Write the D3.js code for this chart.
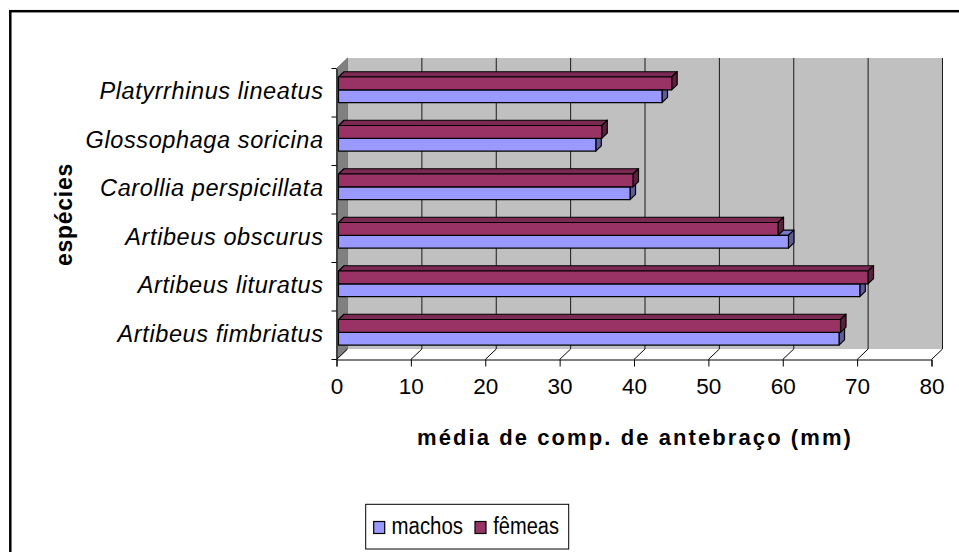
<!DOCTYPE html>
<html><head><meta charset="utf-8">
<script src="https://cdn.jsdelivr.net/npm/d3@7"></script>
<style>html,body{margin:0;padding:0;background:#fff;} svg{display:block;font-family:"Liberation Sans",Arial,sans-serif;}</style>
</head><body>
<svg id="c" width="959" height="552"></svg>
<script>
const categories = ["Platyrrhinus lineatus","Glossophaga soricina","Carollia perspicillata","Artibeus obscurus","Artibeus lituratus","Artibeus fimbriatus"];
const seriesNames = ["machos","fêmeas"];
const machos = [43.5, 34.6, 39.2, 60.5, 70.1, 67.3];
const femeas = [44.8, 35.4, 39.6, 59.1, 71.2, 67.5];
const xTicks = [0,10,20,30,40,50,60,70,80];
const xTitle = "média de comp. de antebraço (mm)";
const yTitle = "espécies";

const svg = d3.select("#c");
const x = d3.scaleLinear().domain([0,80]).range([336.5,931.5]);
const y = d3.scaleBand().domain(categories).range([68.5,359.5]).paddingInner(0).paddingOuter(0);
const DX = 11, DY = -10.5;
const zf = 0.18, zb = 0.68;
const proj = (v, yy, z) => [x(v) + z*DX, yy + z*DY];
const fill = {machos:{front:"#9999ff", top:"#7a7acc", side:"#5c5c99"}, "fêmeas":{front:"#993366", top:"#7a2952", side:"#5c1f3d"}};

function fitText(sel, target){
  const n = sel.text().length;
  const w = sel.node().getComputedTextLength();
  const ls = (target - w)/n;
  sel.attr("letter-spacing", ls);
  return ls;
}

// outer border
svg.append("rect").attr("x",10.3).attr("y",11.2).attr("width",1000).attr("height",600)
  .attr("fill","none").attr("stroke","#000").attr("stroke-width",2.5);

const top0 = y.range()[0], bot0 = y.range()[1];
// back wall
const bw0 = proj(0, top0, 1), bw1 = proj(80, bot0, 1);
svg.append("rect").attr("x",bw0[0]).attr("y",bw0[1]).attr("width",bw1[0]-bw0[0]).attr("height",bw1[1]-bw0[1]).attr("fill","#c0c0c0");
// left wall
const lw = [proj(0,top0,0),proj(0,top0,1),proj(0,bot0,1),proj(0,bot0,0)];
svg.append("polygon").attr("points",lw.map(p=>p.join(",")).join(" ")).attr("fill","#808080").attr("stroke","#555").attr("stroke-width",0.6);
// gridlines on back wall
svg.append("g").selectAll("line").data(xTicks.filter(d=>d>0)).join("line")
  .attr("x1",d=>proj(d,top0,1)[0]).attr("y1",d=>proj(d,top0,1)[1])
  .attr("x2",d=>proj(d,bot0,1)[0]).attr("y2",d=>proj(d,bot0,1)[1])
  .attr("stroke","#1a1a1a").attr("stroke-width",1);
// floor diagonals
svg.append("g").selectAll("line").data(xTicks).join("line")
  .attr("x1",d=>proj(d,bot0,0)[0]).attr("y1",d=>proj(d,bot0,0)[1])
  .attr("x2",d=>proj(d,bot0,1)[0]).attr("y2",d=>proj(d,bot0,1)[1])
  .attr("stroke","#000").attr("stroke-width",1);

// x axis
const xAxis = d3.axisBottom(x).tickValues(xTicks).tickSize(7).tickPadding(4).tickFormat(d3.format("d"));
const gx = svg.append("g").attr("transform",`translate(0,${bot0})`).call(xAxis);
gx.select(".domain").attr("stroke","#000");
gx.selectAll(".tick line").attr("stroke","#000");
gx.selectAll("text").attr("font-size",22.5).attr("fill","#000").attr("font-family","'Liberation Sans',Arial,sans-serif").attr("dy","0.71em").attr("y",18.5);

// y axis
const yAxis = d3.axisLeft(y).tickSize(0).tickFormat("");
const gy = svg.append("g").attr("transform",`translate(${x(0)},0)`).call(yAxis);
gy.select(".domain").attr("stroke","#000");
const bounds = categories.map(c=>y(c)).concat([bot0]);
svg.append("g").selectAll("line").data(bounds).join("line")
  .attr("x1",x(0)-5).attr("x2",x(0)).attr("y1",d=>d).attr("y2",d=>d).attr("stroke","#000");

// category labels
const gl = svg.append("g");
categories.forEach(c=>{
  gl.append("text").attr("x",323.6).attr("y",y(c)+y.bandwidth()/2+6.4)
    .attr("text-anchor","end").attr("font-size",23.5).attr("font-style","italic")
    .attr("letter-spacing",0.6).attr("fill","#000").text(c);
});

// bars
const sub = (c) => d3.scaleBand().domain(["fêmeas","machos"]).range([y(c)+10.4, y(c)+36]);
const gb = svg.append("g");
categories.forEach((c,i)=>{
  const s = sub(c);
  [["machos",machos[i]],["fêmeas",femeas[i]]].forEach(([name,v])=>{
    const y0 = s(name), y1 = y0 + s.bandwidth();
    const faces = [
      {k:"top", pts:[proj(0,y0,zf),proj(v,y0,zf),proj(v,y0,zb),proj(0,y0,zb)]},
      {k:"side", pts:[proj(v,y0,zf),proj(v,y0,zb),proj(v,y1,zb),proj(v,y1,zf)]},
      {k:"front", pts:[proj(0,y0,zf),proj(v,y0,zf),proj(v,y1,zf),proj(0,y1,zf)]}
    ];
    faces.forEach(f=>{
      gb.append("polygon").attr("points",f.pts.map(p=>p.join(",")).join(" "))
        .attr("fill",fill[name][f.k]).attr("stroke","#000").attr("stroke-width",1.2).attr("stroke-linejoin","round");
    });
  });
});

// axis titles
const xt = svg.append("text").attr("x",417).attr("y",445).attr("font-size",22).attr("font-weight","bold").attr("fill","#000").text(xTitle);
fitText(xt, 436);
const yt = svg.append("text").attr("transform","translate(72,266) rotate(-90)").attr("font-size",23).attr("font-weight","bold").attr("fill","#000").text(yTitle);
fitText(yt, 103);

// legend
const lg = svg.append("g");
lg.append("rect").attr("x",365.7).attr("y",504.3).attr("width",203).attr("height",44.7).attr("fill","#fff").attr("stroke","#000").attr("stroke-width",1);
const legItems = [{name:"machos", sx:373.7, tx:391.5, w:71.6},{name:"fêmeas", sx:475, tx:493.3, w:65.7}];
legItems.forEach(it=>{
  lg.append("rect").attr("x",it.sx).attr("y",521.5).attr("width",11).attr("height",12).attr("fill",fill[it.name].front).attr("stroke","#000").attr("stroke-width",1.2);
  lg.append("text").attr("x",it.tx).attr("y",533.5).attr("font-size",23).attr("fill","#000")
    .attr("textLength",it.w).attr("lengthAdjust","spacingAndGlyphs").text(it.name);
});
</script>
</body></html>
